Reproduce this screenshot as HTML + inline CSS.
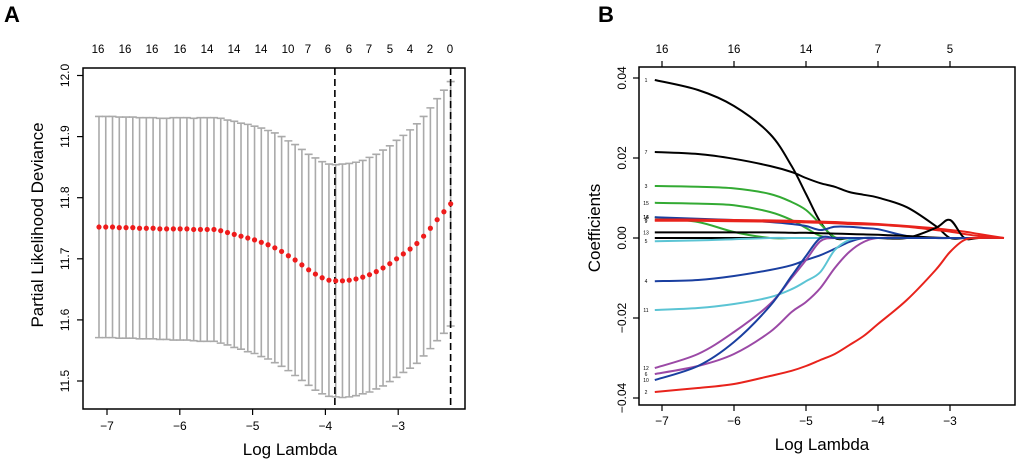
<!DOCTYPE html>
<html><head><meta charset="utf-8">
<style>
html,body{margin:0;padding:0;background:#fff;}
svg{display:block;font-family:"Liberation Sans",Arial,sans-serif;}
</style></head>
<body>
<svg id="chart" width="1020" height="463" viewBox="0 0 1020 463" xmlns="http://www.w3.org/2000/svg">
<text x="4" y="22" font-size="22" font-weight="bold">A</text>
<text x="598" y="22" font-size="22" font-weight="bold">B</text>
<g id="pa"></g>
<g id="pb"></g>
</svg>
<script>
// ---------- Panel A data ----------
const aMean = [11.752,11.752,11.752,11.751,11.751,11.751,11.750,11.750,11.750,11.749,11.749,11.749,11.749,11.749,11.748,11.748,11.748,11.748,
11.746,11.743,11.740,11.737,11.734,11.731,11.727,11.723,11.718,11.712,11.705,11.698,11.690,11.682,11.675,11.669,11.665,11.664,11.664,11.665,11.667,11.670,11.674,11.679,11.685,11.692,11.700,11.708,11.716,11.725,11.737,11.750,11.764,11.777,11.790];
const aSE = [0.181,0.181,0.181,0.181,0.181,0.181,0.181,0.181,0.181,0.181,0.181,0.182,0.182,0.182,0.182,0.183,0.183,0.183,
0.184,0.184,0.185,0.185,0.186,0.186,0.187,0.187,0.188,0.188,0.188,0.189,0.189,0.189,0.190,0.190,0.190,0.190,0.191,0.191,0.191,0.191,0.192,0.192,0.193,0.193,0.194,0.194,0.195,0.196,0.196,0.197,0.198,0.199,0.200];
const aXStart = -7.11, aXStep = 0.0929;
const aTopLabels = ["16","16","16","16","14","14","14","10","7","6","6","7","5","4","2","0"];
const aXTicks = [-7,-6,-5,-4,-3];
const aYTicks = [11.5,11.6,11.7,11.8,11.9,12.0];
const aVlines = [-3.87,-2.28];

// ---------- Panel B data ----------
const bX = [-7.1,-6.5,-6,-5.5,-5.2,-5,-4.8,-4.6,-4.4,-4.2,-4,-3.6,-3.2,-3,-2.8,-2.6,-2.25];
const bNames = ["1","7","3","15","16","14","8","9","13","13b","5","4","11","12","6","10","2"];
const bColors = ["#000","#000","#33aa33","#33aa33","#33aa33","#1a3fa0","#e8231c","#e8231c","#000","#000","#5bc4d4","#1a3fa0","#5bc4d4","#9b49a6","#9b49a6","#1a3fa0","#e8231c"];
const b1  = [0.0395,0.037,0.033,0.026,0.018,0.011,0.004,0,0,0,0,0,0,0,0,0,0];
const b7  = [0.0215,0.021,0.0198,0.018,0.0165,0.015,0.0137,0.0128,0.0115,0.0108,0.0101,0.0077,0.003,0,0,0,0];
const b3  = [0.013,0.0128,0.0124,0.011,0.009,0.007,0.0035,0.0002,0,0,0,0,0,0,0,0,0];
const b15 = [0.0088,0.0086,0.0082,0.0065,0.0045,0.0025,0.0005,0,0,0,0,0,0,0,0,0,0];
const b16 = [0.0052,0.004,0.0015,0,0,0,0,0,0,0,0,0,0,0,0,0,0];
const b14 = [0.0052,0.0048,0.0045,0.004,0.0035,0.003,0.002,0.0028,0.0028,0.0025,0.0022,0.0005,0,0,0,0,0];
const b8  = [0.0046,0.0046,0.0045,0.0044,0.0043,0.0042,0.0041,0.004,0.0038,0.0037,0.0035,0.003,0.0024,0.002,0.0016,0.001,0];
const b9  = [0.0043,0.0043,0.0042,0.0041,0.004,0.0039,0.0038,0.0037,0.0035,0.0034,0.0033,0.0028,0.002,0.0016,0.001,0.0005,0];
const b13 = [0.0014,0.0014,0.0014,0.0014,0.0013,0.0013,0.0012,0.0011,0.001,0.0009,0.0008,0.0005,0.0001,0,0,0,0];
const b13b= [0,0,0,0,0,0,0,0,0,0,0,0,0.0025,0.0045,0,0,0];
const b5  = [-0.0008,-0.0006,-0.0003,0,0,0,0,0,0,0,0,0,0,0,0,0,0];
const b4  = [-0.0108,-0.0105,-0.0095,-0.008,-0.0068,-0.0055,-0.0043,-0.0027,-0.001,0,0,0,0,0,0,0,0];
const b11 = [-0.018,-0.0175,-0.0165,-0.0148,-0.0128,-0.0108,-0.0085,-0.003,-0.0005,0,0,0,0,0,0,0,0];
const b12 = [-0.0325,-0.029,-0.0235,-0.0165,-0.010,-0.0055,-0.0008,0,0,0,0,0,0,0,0,0,0];
const b6  = [-0.034,-0.032,-0.029,-0.0235,-0.0185,-0.016,-0.0125,-0.0075,-0.0035,-0.001,0,0,0,0,0,0,0];
const b10 = [-0.0355,-0.032,-0.026,-0.017,-0.0095,-0.0045,0,0,0,0,0,0,0,0,0,0,0];
const b2  = [-0.0385,-0.0375,-0.0365,-0.0345,-0.0332,-0.032,-0.0305,-0.029,-0.0268,-0.0245,-0.0215,-0.0155,-0.008,-0.0035,-0.0005,0,0];
const bSeries = [b1,b7,b3,b15,b16,b14,b8,b9,b13,b13b,b5,b4,b11,b12,b6,b10,b2];
const bShowLabel = [true,true,true,true,true,true,true,true,true,false,true,true,true,true,true,true,true];
const bTopTicks = [-7,-6,-5,-4,-3];
const bTopLabels = ["16","16","14","7","5"];
const bXTicks = [-7,-6,-5,-4,-3];
const bYTicks = [-0.04,-0.02,0,0.02,0.04];
const bYTickLabels = ["-0.04","-0.02","0.00","0.02","0.04"];

const NS="http://www.w3.org/2000/svg";
function mk(parent,tag,attrs,text){const e=document.createElementNS(NS,tag);for(const k in attrs)e.setAttribute(k,attrs[k]);if(text!==undefined)e.textContent=text;parent.appendChild(e);return e;}
function smooth(pts){
 let d='M'+pts[0][0].toFixed(1)+','+pts[0][1].toFixed(1);
 for(let i=0;i<pts.length-1;i++){
  const p0=pts[Math.max(0,i-1)],p1=pts[i],p2=pts[i+1],p3=pts[Math.min(pts.length-1,i+2)];
  const c1x=p1[0]+(p2[0]-p0[0])/6,c1y=p1[1]+(p2[1]-p0[1])/6;
  const c2x=p2[0]-(p3[0]-p1[0])/6,c2y=p2[1]-(p3[1]-p1[1])/6;
  d+=`C${c1x.toFixed(1)},${c1y.toFixed(1)} ${c2x.toFixed(1)},${c2y.toFixed(1)} ${p2[0].toFixed(1)},${p2[1].toFixed(1)}`;
 }
 return d;
}

// ---------- Panel A ----------
(function(){
const g=document.getElementById('pa');
const xs=v=>107+(v+7)*72.8;
const ys=v=>381-(v-11.5)*611;
const bx0=83,bx1=465,by0=68,by1=409;
for(let i=0;i<aMean.length;i++){
 const x=xs(aXStart+i*aXStep), up=ys(aMean[i]+aSE[i]), lo=ys(aMean[i]-aSE[i]);
 const bar=mk(g,'path',{d:`M${x},${up}V${lo}M${x-4},${up}H${x+4}M${x-4},${lo}H${x+4}`,stroke:'#aaaaaa','stroke-width':1.6,fill:'none'});
 
 
}
aVlines.forEach(v=>{
 const l=mk(g,'line',{x1:xs(v),x2:xs(v),y1:by0,y2:by1,stroke:'#000','stroke-width':1.6,'stroke-dasharray':'7,4'});
 
 
});
for(let i=0;i<aMean.length;i++){
 const c=mk(g,'circle',{cx:xs(aXStart+i*aXStep),cy:ys(aMean[i]),r:2.6,fill:'#ee1c1c'});
 
 
}
const box=mk(g,'rect',{x:bx0,y:by0,width:bx1-bx0,height:by1-by0,fill:'none',stroke:'#000','stroke-width':1.5});


aXTicks.forEach(v=>{
 mk(g,'line',{x1:xs(v),x2:xs(v),y1:by1,y2:by1+6,stroke:'#000','stroke-width':1.2});
 const t=mk(g,'text',{x:xs(v),y:by1+21,'font-size':12,'text-anchor':'middle'},String(v).replace('-','\u2212'));
 
 
});
aYTicks.forEach(v=>{
 mk(g,'line',{x1:bx0,x2:bx0-6,y1:ys(v),y2:ys(v),stroke:'#000','stroke-width':1.2});
 const t=mk(g,'text',{x:0,y:0,'font-size':12,'text-anchor':'middle',transform:`translate(${bx0-14},${ys(v)}) rotate(-90)`},v.toFixed(1));
 
 
});
const tp=[98,125,152,180,207,234,261,288,308,328,349,369,390,410,430,450];
aTopLabels.forEach((s,i)=>{
 const t=mk(g,'text',{x:tp[i],y:53,'font-size':11.5,'text-anchor':'middle'},s);
 
 
});
const xt=mk(g,'text',{x:290,y:455,'font-size':17,'text-anchor':'middle'},'Log Lambda');


const yt=mk(g,'text',{x:0,y:0,'font-size':17,'text-anchor':'middle',transform:'translate(43,225) rotate(-90)'},'Partial Likelihood Deviance');


})();

// ---------- Panel B ----------
(function(){
const g=document.getElementById('pb');
const xs=v=>662+(v+7)*72;
const ys=v=>238-v*4000;
const bx0=639,bx1=1015,by0=67,by1=405;
bSeries.forEach((s,k)=>{
 const pts=s.map((v,i)=>[xs(bX[i]),ys(v)]);
 const p=mk(g,'path',{d:smooth(pts),stroke:bColors[k],'stroke-width':2,fill:'none','stroke-linejoin':'round'});
 
 
 if(bShowLabel[k]){
  const t=mk(g,'text',{x:646,y:ys(s[0])+2,'font-size':5,'text-anchor':'middle'},bNames[k]);
  
  
 }
});
const box=mk(g,'rect',{x:bx0,y:by0,width:bx1-bx0,height:by1-by0,fill:'none',stroke:'#000','stroke-width':1.5});


bXTicks.forEach(v=>{
 mk(g,'line',{x1:xs(v),x2:xs(v),y1:by1,y2:by1+6,stroke:'#000','stroke-width':1.2});
 const t=mk(g,'text',{x:xs(v),y:by1+20,'font-size':12,'text-anchor':'middle'},String(v).replace('-','\u2212'));
 
 
});
bTopTicks.forEach((v,i)=>{
 mk(g,'line',{x1:xs(v),x2:xs(v),y1:by0,y2:by0-6,stroke:'#000','stroke-width':1.2});
 const t=mk(g,'text',{x:xs(v),y:53,'font-size':11.5,'text-anchor':'middle'},bTopLabels[i]);
 
 
});
bYTicks.forEach((v,i)=>{
 mk(g,'line',{x1:bx0,x2:bx0-6,y1:ys(v),y2:ys(v),stroke:'#000','stroke-width':1.2});
 const t=mk(g,'text',{x:0,y:0,'font-size':12,'text-anchor':'middle',transform:`translate(${bx0-13},${ys(v)}) rotate(-90)`},bYTickLabels[i].replace('-','\u2212'));
 
 
});
const xt=mk(g,'text',{x:822,y:450,'font-size':17,'text-anchor':'middle'},'Log Lambda');


const yt=mk(g,'text',{x:0,y:0,'font-size':17,'text-anchor':'middle',transform:'translate(600,228) rotate(-90)'},'Coefficients');


})();
</script>
</body></html>
